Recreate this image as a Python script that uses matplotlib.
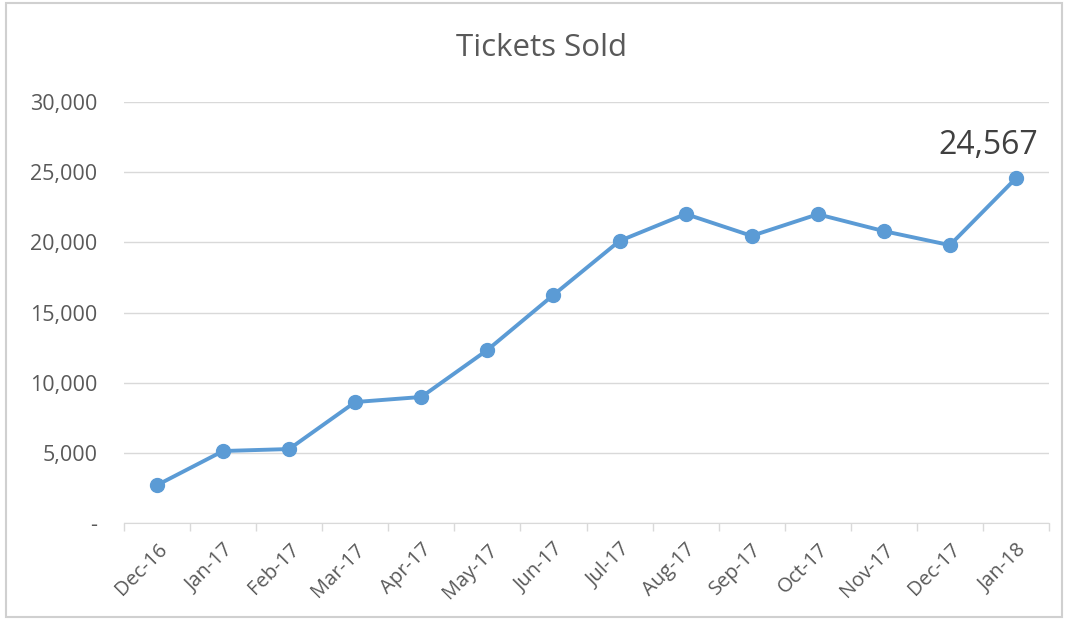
import numpy as np
from matplotlib import pyplot as plt
from matplotlib.patches import Rectangle
from matplotlib.ticker import FuncFormatter

# 数据
months = ['Dec-16', 'Jan-17', 'Feb-17', 'Mar-17', 'Apr-17', 'May-17', 'Jun-17',
          'Jul-17', 'Aug-17', 'Sep-17', 'Oct-17', 'Nov-17', 'Dec-17', 'Jan-18']
tickets = [2700, 5130, 5270, 8620, 8980, 12330, 16250,
           20100, 22020, 20460, 22000, 20800, 19800, 24567]
y_ticks = [0, 5000, 10000, 15000, 20000, 25000, 30000]

plt.rcParams['font.family'] = ['Open Sans', 'DejaVu Sans']
grey = '#595959'
blue = '#5B9BD5'

fig = plt.figure(figsize=(10.71, 6.27), dpi=100)
ax = fig.add_axes([124 / 1071, 1 - 523 / 627, 925 / 1071, 421 / 627])

x = np.arange(len(months))
ax.plot(x, tickets, color=blue, linewidth=2.8, marker='o', markersize=10, zorder=3)

# 最后一个点的标注
ax.annotate(f'{tickets[-1]:,}', xy=(x[-1], tickets[-1]), xytext=(-20, 12),
            textcoords='offset points', ha='center', va='bottom',
            fontsize=23, color='#404040')

ax.set_xlim(-0.5, len(months) - 0.5)
ax.set_ylim(0, 30000)
ax.set_yticks(y_ticks)
ax.yaxis.set_major_formatter(FuncFormatter(lambda v, p: '-' if v == 0 else f'{int(v):,}'))
ax.grid(axis='y', color='#D9D9D9', linewidth=1)
ax.set_axisbelow(True)

ax.set_xticks(x)
ax.set_xticklabels(months, rotation=45, ha='right', rotation_mode='anchor')
ax.set_xticks(np.arange(-0.5, len(months)), minor=True)
ax.tick_params(axis='x', which='major', length=0, pad=12, labelsize=14.5, labelcolor=grey)
ax.tick_params(axis='x', which='minor', length=6, color='#D9D9D9', width=1)
ax.tick_params(axis='y', length=0, pad=19, labelsize=15.5, labelcolor=grey)

for s in ['top', 'right', 'left']:
    ax.spines[s].set_visible(False)
ax.spines['bottom'].set_color('#D9D9D9')

fig.text(542 / 1071, 1 - 48 / 627, 'Tickets Sold', ha='center', va='center',
         fontsize=22.5, color=grey)

# 外框
fig.patches.append(Rectangle((6 / 1071, 1 - 617 / 627), 1056 / 1071, 614 / 627,
                             transform=fig.transFigure, fill=False,
                             edgecolor='#D0D0D0', linewidth=1.5))

plt.savefig('out.png', dpi=100)
